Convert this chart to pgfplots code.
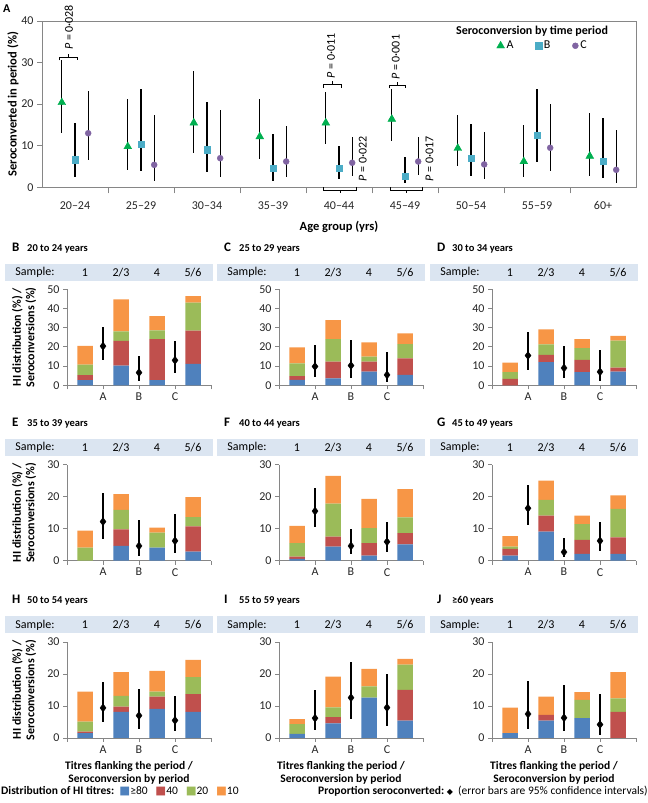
\documentclass[border=0pt]{standalone}
\usepackage{fontspec}
\setmainfont{Carlito}
\newfontfamily\sym{DejaVu Sans}
\usepackage{pgfplots}
\usepackage{pgfplotstable}
\pgfplotsset{compat=1.18}

\definecolor{c80}{HTML}{4F81BD}
\definecolor{c40}{HTML}{C0504D}
\definecolor{c20}{HTML}{9BBB59}
\definecolor{c10}{HTML}{F79646}
\definecolor{serA}{HTML}{00B050}
\definecolor{serB}{HTML}{4BACC6}
\definecolor{serC}{HTML}{8064A2}
\definecolor{band}{HTML}{DBE5F1}
\definecolor{axgray}{HTML}{868686}

\newcommand\fsz[2]{\fontsize{#1bp}{#2bp}\selectfont}

% panel A: seroconversion by age group and period (estimate, 95% CI)
\pgfplotstableread{
x a alo ahi b blo bhi c clo chi
1 20.4 13.0 30.6  6.6 2.4 15.5 13.0 6.6 23.2
2  9.8  4.2 21.2 10.3 4.0 23.6  5.4 1.5 17.4
3 15.5  8.2 28.0  9.0 3.6 20.4  7.0 2.4 18.6
4 12.2  6.7 21.2  4.6 1.5 12.7  6.2 2.4 14.7
5 15.5 10.4 22.8  4.6 2.0 10.0  5.9 2.6 12.1
6 16.4 11.1 23.6  2.7 1.1  7.2  6.2 3.0 12.1
7  9.4  5.0 17.5  7.0 2.8 15.2  5.5 2.1 13.2
8  6.2  2.4 15.0 12.6 6.0 23.6  9.5 3.9 20.0
9  7.5  2.8 17.8  6.3 2.2 16.6  4.2 1.0 13.8
}\tabA

% HI titre distributions per sample (>=80, 40, 20, 10)
\pgfplotstableread{
x b80 b40 b20 b10
1  2.7  2.6  5.4  9.8
2 10.2 12.9  5.0 16.6
3  2.7 21.3  4.6  7.4
4 11.2 17.3 14.5  3.4
}\bB
\pgfplotstableread{
x b80 b40 b20 b10
1 2.8 2.0  6.6 8.4
2 3.6 8.7 11.8 9.9
3 7.1 5.2  2.6 7.5
4 5.4 8.6  7.5 5.6
}\bC
\pgfplotstableread{
x b80 b40 b20 b10
1  0.0 3.3  3.5 5.0
2 12.0 3.8  5.5 7.8
3  6.8 6.4  6.1 4.8
4  7.1 2.1 14.0 2.5
}\bD
\pgfplotstableread{
x b80 b40 b20 b10
1 0.0 0.0 4.1 5.3
2 4.6 5.2 6.1 4.9
3 4.1 0.0 4.7 1.5
4 2.8 7.9 2.9 6.3
}\bE
\pgfplotstableread{
x b80 b40 b20 b10
1 0.6 0.7  4.2 5.4
2 4.4 3.1 10.3 8.7
3 1.6 3.9  4.7 9.1
4 5.1 3.5  4.9 8.9
}\bF
\pgfplotstableread{
x b80 b40 b20 b10
1 1.6 2.1 0.7 3.3
2 9.1 5.0 4.9 6.0
3 2.1 4.4 4.9 2.7
4 2.1 5.2 8.9 4.2
}\bG
\pgfplotstableread{
x b80 b40 b20 b10
1 1.5 0.5 3.1 9.4
2 8.2 1.6 3.4 7.4
3 9.1 3.8 1.6 6.5
4 8.2 5.5 5.3 5.4
}\bH
\pgfplotstableread{
x b80 b40 b20 b10
1  1.3 0.0 3.0 1.6
2  4.6 1.9 3.1 9.6
3 12.6 0.0 3.5 5.5
4  5.4 9.6 7.9 1.8
}\bI
\pgfplotstableread{
x b80 b40 b20 b10
1 1.5 0.0 0.0 8.0
2 5.4 1.8 0.0 5.7
3 6.2 0.0 5.7 2.4
4 0.0 8.2 4.2 8.2
}\bJ

% proportion seroconverted per period (A, B, C)
\pgfplotstableread{
x y lo hi
1.5 20.4 13.0 30.6
2.5  6.6  2.4 15.5
3.5 13.0  6.6 23.2
}\dB
\pgfplotstableread{
x y lo hi
1.5  9.8 4.2 21.2
2.5 10.3 4.0 23.6
3.5  5.4 1.5 17.4
}\dC
\pgfplotstableread{
x y lo hi
1.5 15.5 8.2 28.0
2.5  9.0 3.6 20.4
3.5  7.0 2.4 18.6
}\dD
\pgfplotstableread{
x y lo hi
1.5 12.2 6.7 21.2
2.5  4.6 1.5 12.7
3.5  6.2 2.4 14.7
}\dE
\pgfplotstableread{
x y lo hi
1.5 15.5 10.4 22.8
2.5  4.6  2.0 10.0
3.5  5.9  2.6 12.1
}\dF
\pgfplotstableread{
x y lo hi
1.5 16.4 11.1 23.6
2.5  2.7  1.1  7.2
3.5  6.2  3.0 12.1
}\dG
\pgfplotstableread{
x y lo hi
1.5 9.4 5.0 17.5
2.5 7.0 2.8 15.2
3.5 5.5 2.1 13.2
}\dH
\pgfplotstableread{
x y lo hi
1.5  6.2 2.4 15.0
2.5 12.6 6.0 23.6
3.5  9.5 3.9 20.0
}\dI
\pgfplotstableread{
x y lo hi
1.5 7.5 2.8 17.8
2.5 6.3 2.2 16.6
3.5 4.2 1.0 13.8
}\dJ

\pgfplotsset{
  smallax/.style={
    anchor=south west, scale only axis, width=144bp, height=96bp,
    xmin=0.5, xmax=4.5, ymin=0, enlargelimits=false,
    xtick={0.5,1.5,2.5,3.5,4.5}, xticklabels={,A,B,C,},
    axis x line*=bottom, axis y line*=left,
    tick align=outside, major tick length=4bp,
    axis line style={axgray, line width=0.8bp},
    tick style={axgray, line width=0.8bp},
    ticklabel style={font=\fsz{12}{14}, text=black!85},
    /pgf/number format/assume math mode=true,
    clip=false,
  },
  ebar/.style={
    error bars/.cd, y dir=both, y explicit, error mark=none,
    error bar style={black, solid, line width=1.3bp},
  },
}

% #1 axis left, #2 axis bottom, #3 ymax, #4 bars, #5 diamonds, #6 letter, #7 title
\newcommand\smallpanel[7]{%
  \begin{axis}[smallax, at={(#1bp,#2bp)}, ymax=#3, ytick={0,10,...,#3},
    ybar stacked, bar width=15.5bp]
    \addplot[fill=c80, draw=none] table[x=x, y=b80] {#4};
    \addplot[fill=c40, draw=none] table[x=x, y=b40] {#4};
    \addplot[fill=c20, draw=none] table[x=x, y=b20] {#4};
    \addplot[fill=c10, draw=none] table[x=x, y=b10] {#4};
  \end{axis}
  \begin{axis}[smallax, hide axis, at={(#1bp,#2bp)}, ymax=#3]
    \addplot[only marks, mark=diamond*, mark size=4bp, black, ebar]
      table[x=x, y=y, y error plus expr=\thisrow{hi}-\thisrow{y},
            y error minus expr=\thisrow{y}-\thisrow{lo}] {#5};
  \end{axis}
  \fill[band] ({#1-62},{#2+104.5}) rectangle ({#1+146},{#2+121.5});
  \node[font=\fsz{12}{14}] at ({#1-32},{#2+113}) {Sample:};
  \node[font=\fsz{12}{14}] at ({#1+18},{#2+113}) {1};
  \node[font=\fsz{12}{14}] at ({#1+54},{#2+113}) {2/3};
  \node[font=\fsz{12}{14}] at ({#1+90},{#2+113}) {4};
  \node[font=\fsz{12}{14}] at ({#1+126},{#2+113}) {5/6};
  \node[anchor=base west, inner sep=0, font=\bfseries\fsz{13}{15}] at ({#1-55},{#2+134}) {#6};
  \node[anchor=base west, inner sep=0, font=\bfseries\fsz{10.5}{12}] at ({#1-40},{#2+134}) {#7};
}

\begin{document}
\begin{tikzpicture}[x=1bp, y=1bp]
\useasboundingbox (0,0) rectangle (648,803);

\node[anchor=base west, inner sep=0, font=\bfseries\fsz{12}{14}] at (3,790) {A};

\begin{axis}[
  at={(42bp,615.7bp)}, anchor=south west, scale only axis,
  width=594bp, height=166.3bp,
  xmin=0.5, xmax=9.5, ymin=0, ymax=40, enlargelimits=false,
  xtick={1,...,9},
  xticklabels={20--24,25--29,30--34,35--39,40--44,45--49,50--54,55--59,60+},
  major x tick style={draw=none},
  minor xtick={1.5,2.5,...,8.5},
  ytick={0,10,20,30,40},
  tick align=outside, tick pos=left, major tick length=5bp, minor tick length=6bp,
  axis line style={axgray, line width=0.8bp},
  tick style={axgray, line width=0.8bp},
  ticklabel style={font=\fsz{12}{14}, text=black!85},
  xticklabel style={yshift=-6bp},
  /pgf/number format/assume math mode=true,
  ylabel={\bfseries Seroconverted in period (\%)},
  xlabel={\bfseries Age group (yrs)},
  label style={font=\fsz{12.5}{14}},
  ylabel style={yshift=-4bp},
  xlabel style={yshift=-4bp},
  clip=false,
  legend style={draw=none, fill=none, at={(rel axis cs:0.843,0.851)}, anchor=center,
    font=\fsz{12}{14}, /tikz/every even column/.append style={column sep=20bp}},
  legend columns=3,
]
\addplot[forget plot, only marks, mark=none, ebar]
  table[x expr=\thisrow{x}-0.2, y=a, y error plus expr=\thisrow{ahi}-\thisrow{a},
        y error minus expr=\thisrow{a}-\thisrow{alo}] {\tabA};
\addplot[forget plot, only marks, mark=none, ebar]
  table[x=x, y=b, y error plus expr=\thisrow{bhi}-\thisrow{b},
        y error minus expr=\thisrow{b}-\thisrow{blo}] {\tabA};
\addplot[forget plot, only marks, mark=none, ebar]
  table[x expr=\thisrow{x}+0.2, y=c, y error plus expr=\thisrow{chi}-\thisrow{c},
        y error minus expr=\thisrow{c}-\thisrow{clo}] {\tabA};
\addplot[only marks, mark=triangle*, mark size=4.5bp, color=serA]
  table[x expr=\thisrow{x}-0.2, y=a] {\tabA};
\addplot[only marks, mark=square*, mark size=3.2bp, color=serB]
  table[x=x, y=b] {\tabA};
\addplot[only marks, mark=*, mark size=3bp, color=serC]
  table[x expr=\thisrow{x}+0.2, y=c] {\tabA};
\legend{A,B,C}

\node[font=\bfseries\fsz{12}{14}] at (rel axis cs:0.825,0.94) {Seroconversion by time period};

% significance brackets
\draw[black, line width=0.8bp] (axis cs:0.77,30.5) -- (axis cs:0.77,31.2) -- (axis cs:1.04,31.2) -- (axis cs:1.04,30.5);
\draw[black, line width=0.8bp] (axis cs:0.905,31.2) -- (axis cs:0.905,32.0);
\node[rotate=90, anchor=west, inner sep=0, font=\fsz{12}{14}] at (axis cs:0.905,33.0) {\textit{P} = 0·028};

\draw[black, line width=0.8bp] (axis cs:4.77,24.0) -- (axis cs:4.77,24.7) -- (axis cs:5.03,24.7) -- (axis cs:5.03,24.0);
\draw[black, line width=0.8bp] (axis cs:4.9,24.7) -- (axis cs:4.9,25.5);
\node[rotate=90, anchor=west, inner sep=0, font=\fsz{12}{14}] at (axis cs:4.88,26.2) {\textit{P} = 0·011};

\draw[black, line width=0.8bp] (axis cs:5.76,23.8) -- (axis cs:5.76,24.5) -- (axis cs:6.0,24.5) -- (axis cs:6.0,23.8);
\draw[black, line width=0.8bp] (axis cs:5.88,24.5) -- (axis cs:5.88,25.3);
\node[rotate=90, anchor=west, inner sep=0, font=\fsz{12}{14}] at (axis cs:5.86,25.8) {\textit{P} = 0·001};

\draw[black, line width=0.8bp] (axis cs:4.77,0) -- (axis cs:4.77,-0.7) -- (axis cs:5.27,-0.7) -- (axis cs:5.27,0);
\draw[black, line width=0.8bp] (axis cs:5.02,-0.7) -- (axis cs:5.02,-1.4);
\node[rotate=90, anchor=west, inner sep=0, font=\fsz{12}{14}] at (axis cs:5.36,1.4) {\textit{P} = 0·022};

\draw[black, line width=0.8bp] (axis cs:5.78,0) -- (axis cs:5.78,-0.7) -- (axis cs:6.27,-0.7) -- (axis cs:6.27,0);
\draw[black, line width=0.8bp] (axis cs:6.02,-0.7) -- (axis cs:6.02,-1.4);
\node[rotate=90, anchor=west, inner sep=0, font=\fsz{12}{14}] at (axis cs:6.37,1.4) {\textit{P} = 0·017};
\end{axis}

\smallpanel{67}{417.7}{50}{\bB}{\dB}{B}{20 to 24 years}
\smallpanel{279}{417.7}{50}{\bC}{\dC}{C}{25 to 29 years}
\smallpanel{492}{417.7}{50}{\bD}{\dD}{D}{30 to 34 years}
\smallpanel{67}{242.3}{30}{\bE}{\dE}{E}{35 to 39 years}
\smallpanel{279}{242.3}{30}{\bF}{\dF}{F}{40 to 44 years}
\smallpanel{492}{242.3}{30}{\bG}{\dG}{G}{45 to 49 years}
\smallpanel{67}{65}{30}{\bH}{\dH}{H}{50 to 54 years}
\smallpanel{279}{65}{30}{\bI}{\dI}{I}{55 to 59 years}
\smallpanel{492}{65}{30}{\bJ}{\dJ}{J}{≥60 years}

\foreach \yc in {465.7,290.1,113} {
  \node[rotate=90, align=center, font=\bfseries\fsz{12}{13.5}] at (24,\yc) {HI distribution (\%) /\\Seroconversions (\%)};
}
\foreach \xc in {67,279,492} {
  \node[align=center, font=\bfseries\fsz{11.5}{13}] at (\xc+62,30.5) {Titres flanking\ the period /\\Seroconversion by period};
}

\node[anchor=west, inner sep=0, font=\fsz{11.5}{13}] at (1,12) {\textbf{Distribution of HI titres:}\ \ {\sym\color{c80}■}≥80\ \ \ {\sym\color{c40}■}40\ \ \ {\sym\color{c20}■}20\ \ \ {\sym\color{c10}■}10};
\node[anchor=west, inner sep=0, font=\fsz{11.5}{13}] at (318,12) {\textbf{Proportion seroconverted:}\ {\sym\fsz{8}{9}◆}\ \ (error bars are 95\% confidence intervals)};
\end{tikzpicture}
\end{document}
